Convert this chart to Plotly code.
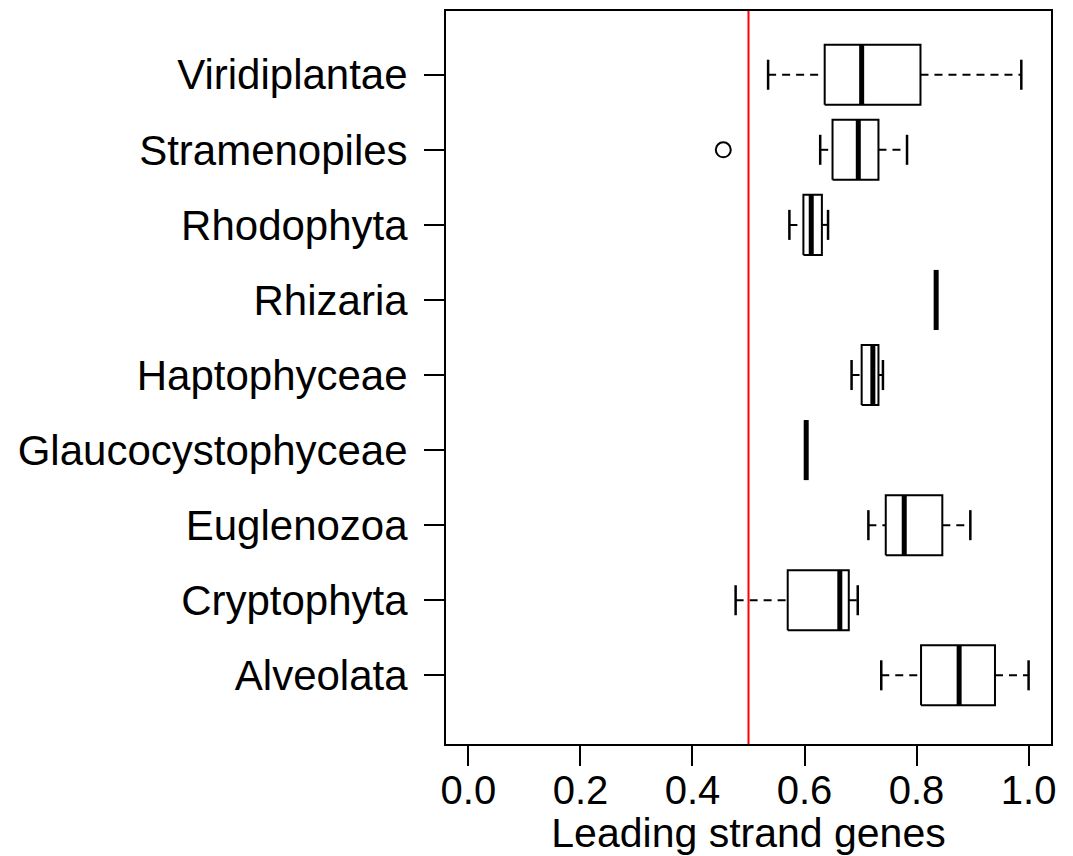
import plotly.graph_objects as go

# ---- data ----
categories = ["Alveolata", "Cryptophyta", "Euglenozoa", "Glaucocystophyceae",
              "Haptophyceae", "Rhizaria", "Rhodophyta", "Stramenopiles", "Viridiplantae"]
lower_whisker = [0.737, 0.477, 0.714, 0.603, 0.684, 0.835, 0.573, 0.628, 0.535]
q1            = [0.808, 0.570, 0.745, 0.603, 0.702, 0.835, 0.598, 0.650, 0.636]
median        = [0.876, 0.663, 0.778, 0.603, 0.722, 0.835, 0.612, 0.696, 0.702]
q3            = [0.940, 0.679, 0.846, 0.603, 0.732, 0.835, 0.631, 0.732, 0.807]
upper_whisker = [1.000, 0.695, 0.896, 0.603, 0.740, 0.835, 0.642, 0.783, 0.987]
outlier_category = ["Stramenopiles"]
outlier_value = [0.455]
reference_line = 0.5
x_ticks = [0.0, 0.2, 0.4, 0.6, 0.8, 1.0]
x_tick_labels = ["0.0", "0.2", "0.4", "0.6", "0.8", "1.0"]

BOX_HALF = 0.4
CAP_HALF = 0.2
FONT = "Liberation Sans, Arial, sans-serif"

pos = {c: i + 1 for i, c in enumerate(categories)}

box_x, box_y = [], []
med_x, med_y = [], []
wh_x, wh_y = [], []
cap_x, cap_y = [], []
for i, c in enumerate(categories):
    y = pos[c]
    box_x += [q1[i], q3[i], q3[i], q1[i], q1[i], None]
    box_y += [y - BOX_HALF, y - BOX_HALF, y + BOX_HALF, y + BOX_HALF, y - BOX_HALF, None]
    med_x += [median[i], median[i], None]
    med_y += [y - BOX_HALF, y + BOX_HALF, None]
    wh_x += [lower_whisker[i], q1[i], None, q3[i], upper_whisker[i], None]
    wh_y += [y, y, None, y, y, None]
    cap_x += [lower_whisker[i], lower_whisker[i], None, upper_whisker[i], upper_whisker[i], None]
    cap_y += [y - CAP_HALF, y + CAP_HALF, None, y - CAP_HALF, y + CAP_HALF, None]

fig = go.Figure()
fig.add_trace(go.Scatter(x=wh_x, y=wh_y, mode="lines",
                         line=dict(color="black", width=2, dash="8px,6px"),
                         hoverinfo="skip", showlegend=False))
fig.add_trace(go.Scatter(x=cap_x, y=cap_y, mode="lines",
                         line=dict(color="black", width=2.5),
                         hoverinfo="skip", showlegend=False))
fig.add_trace(go.Scatter(x=box_x, y=box_y, mode="lines", fill="none",
                         line=dict(color="black", width=2),
                         hoverinfo="skip", showlegend=False))
fig.add_trace(go.Scatter(x=med_x, y=med_y, mode="lines",
                         line=dict(color="black", width=5),
                         hoverinfo="skip", showlegend=False))
fig.add_trace(go.Scatter(x=outlier_value, y=[pos[c] for c in outlier_category],
                         mode="markers",
                         marker=dict(symbol="circle-open", size=15, color="black",
                                     line=dict(width=2, color="black")),
                         hoverinfo="skip", showlegend=False))

fig.add_shape(type="line", xref="x", yref="paper",
              x0=reference_line, x1=reference_line, y0=0, y1=1,
              line=dict(color="#ff0000", width=2))

fig.update_layout(
    width=1073, height=856,
    margin=dict(l=446, r=22, t=9, b=111),
    paper_bgcolor="white", plot_bgcolor="white",
    font=dict(family=FONT, size=42, color="black"),
    xaxis=dict(range=[-0.04, 1.04], tickvals=x_ticks, ticktext=x_tick_labels,
               ticks="outside", ticklen=20, tickwidth=2, tickcolor="black",
               showline=True, linewidth=2, linecolor="black", mirror=True,
               showgrid=False, zeroline=False, ticklabelstandoff=-10,
               tickfont=dict(size=40),
               title=dict(text="Leading strand genes", font=dict(size=41), standoff=6)),
    yaxis=dict(range=[0.085, 9.849], tickvals=[pos[c] for c in categories],
               ticktext=categories,
               ticks="outside", ticklen=20, tickwidth=2, tickcolor="black",
               showline=True, linewidth=2, linecolor="black", mirror=True,
               showgrid=False, zeroline=False, ticklabelstandoff=8,
               tickfont=dict(size=42)),
)

fig.write_html("out.html")
